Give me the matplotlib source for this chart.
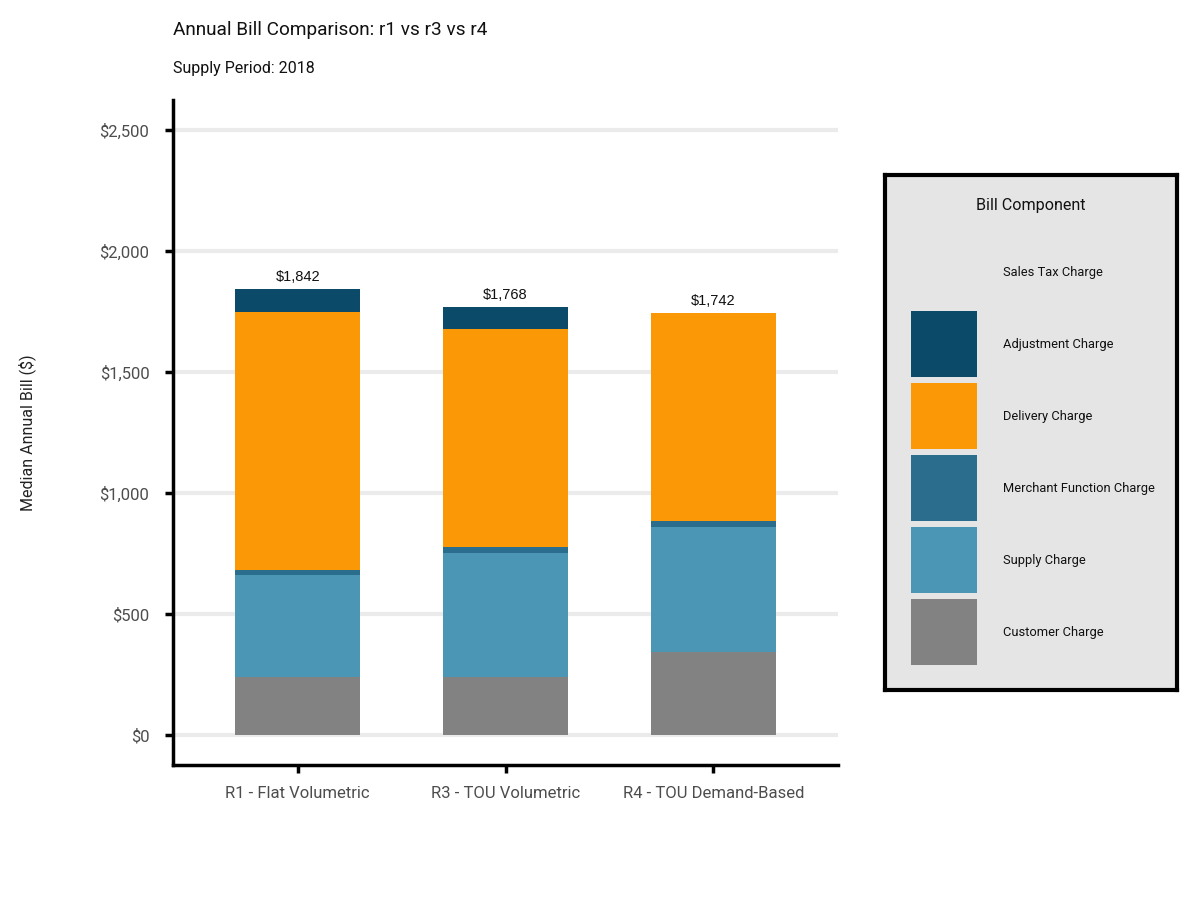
import matplotlib
matplotlib.use("Agg")
import matplotlib.pyplot as plt
from matplotlib.patches import Rectangle
from matplotlib.ticker import FuncFormatter
import numpy as np

categories = ["R1 - Flat Volumetric", "R3 - TOU Volumetric", "R4 - TOU Demand-Based"]
components = ["Customer Charge", "Supply Charge", "Merchant Function Charge",
              "Delivery Charge", "Adjustment Charge", "Sales Tax Charge"]
customer = [240, 240, 343]
supply = [421, 512, 517]
merchant = [21, 25, 24]
delivery = [1066, 901, 858]
adjustment = [94, 90, 0]
sales_tax = [0, 0, 0]
totals = [1842, 1768, 1742]
colors = {
    "Customer Charge": "#828282",
    "Supply Charge": "#4a96b4",
    "Merchant Function Charge": "#2b6d8c",
    "Delivery Charge": "#fb9806",
    "Adjustment Charge": "#0b4a69",
    "Sales Tax Charge": "none",
}
series = [customer, supply, merchant, delivery, adjustment, sales_tax]

FONT = ["Roboto", "DejaVu Sans"]
plt.rcParams["font.family"] = FONT

fig = plt.figure(figsize=(12, 9), dpi=100)
ax = fig.add_axes([173/1200, 1-765/900, (838-173)/1200, (765-100)/900])

x = np.arange(len(categories))
bottom = np.zeros(len(categories))
for name, vals in zip(components, series):
    vals = np.array(vals, dtype=float)
    if colors[name] != "none":
        ax.bar(x, vals, width=0.6, bottom=bottom, color=colors[name], zorder=3, linewidth=0)
    bottom += vals

for xi, t in zip(x, totals):
    ax.annotate(f"${t:,.0f}", (xi, t), xytext=(0, 4), textcoords="offset points",
                ha="center", va="bottom", fontsize=10.5, family=["Liberation Sans", "DejaVu Sans"],
                color="#111111")

ax.set_xlim(-0.6, 2.6)
ax.set_ylim(-124, 2624)
ax.set_yticks([0, 500, 1000, 1500, 2000, 2500])
ax.yaxis.set_major_formatter(FuncFormatter(lambda v, p: f"${v:,.0f}"))
ax.set_xticks(x)
ax.set_xticklabels(categories)
ax.grid(axis="y", color="#ebebeb", linewidth=3, zorder=0)
ax.grid(axis="x", visible=False)
for s in ["top", "right"]:
    ax.spines[s].set_visible(False)
for s in ["left", "bottom"]:
    ax.spines[s].set_linewidth(2.5)
    ax.spines[s].set_color("black")
ax.tick_params(axis="both", direction="out", length=6, width=2.5, color="black",
               labelsize=12, labelcolor="#4d4d4d")
ax.tick_params(axis="y", pad=11)
ax.tick_params(axis="x", pad=9)
ax.set_ylabel("Median Annual Bill ($)", fontsize=11.5, color="#222222")
ax.yaxis.set_label_coords(-(173-36)/665, 0.5)

fig.text(173/1200, 1-30/900, "Annual Bill Comparison: r1 vs r3 vs r4", fontsize=13.7,
         ha="left", va="center", color="#111111")
fig.text(173/1200, 1-69/900, "Supply Period: 2018", fontsize=11.5,
         ha="left", va="center", color="#111111")

# legend drawn in a dedicated axes using pixel-like coordinates
lx0, lx1, ly0, ly1 = 885, 1177, 175, 690
lax = fig.add_axes([lx0/1200, 1-ly1/900, (lx1-lx0)/1200, (ly1-ly0)/900])
lax.set_xlim(lx0, lx1)
lax.set_ylim(ly1, ly0)
lax.set_xticks([])
lax.set_yticks([])
lax.set_facecolor("#e5e5e5")
for s in lax.spines.values():
    s.set_linewidth(3)
    s.set_color("black")
lax.text((lx0+lx1)/2, 205, "Bill Component", ha="center", va="center", fontsize=11.6, color="#111111")
legend_order = components[::-1]
for i, name in enumerate(legend_order):
    top = 239 + 72*i
    if colors[name] != "none":
        lax.add_patch(Rectangle((911, top), 66, 66, facecolor=colors[name], edgecolor="none"))
    lax.text(1003, top+33, name, ha="left", va="center", fontsize=9.3, color="#111111")

fig.savefig("out.png", dpi=100)
